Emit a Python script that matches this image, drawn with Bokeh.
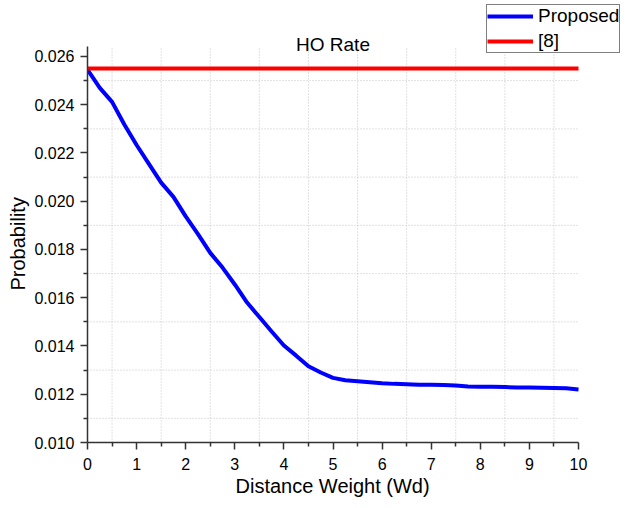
from bokeh.plotting import figure
from bokeh.models import (Legend, LegendItem, FixedTicker, NumeralTickFormatter,
                          Label, Title)
from bokeh.embed import file_html
from bokeh.resources import INLINE

# ---- data ----
x_vals = [0, 0.25, 0.5, 0.75, 1.0, 1.25, 1.5, 1.75, 2.0, 2.25, 2.5, 2.75, 3.0,
          3.25, 3.5, 3.75, 4.0, 4.25, 4.5, 4.75, 5.0, 5.25, 5.5, 5.75, 6.0,
          6.25, 6.5, 6.75, 7.0, 7.25, 7.5, 7.75, 8.0, 8.25, 8.5, 8.75, 9.0,
          9.25, 9.5, 9.75, 10.0]
proposed = [0.02545, 0.02470, 0.02412, 0.02318, 0.02233, 0.02155, 0.02077,
            0.02018, 0.01937, 0.01864, 0.01786, 0.01725, 0.01655, 0.01580,
            0.01520, 0.01460, 0.01402, 0.01360, 0.01316, 0.01290, 0.01268,
            0.01258, 0.01254, 0.01250, 0.01246, 0.01243, 0.01241, 0.01239,
            0.01239, 0.01238, 0.01236, 0.01232, 0.01231, 0.01231, 0.01230,
            0.01228, 0.01228, 0.01227, 0.01226, 0.01225, 0.01220]
ref8_x = [0, 10]
ref8 = [0.02550, 0.02550]

x_ticks = [0, 1, 2, 3, 4, 5, 6, 7, 8, 9, 10]
x_minor = [0.5, 1.5, 2.5, 3.5, 4.5, 5.5, 6.5, 7.5, 8.5, 9.5]
y_ticks = [0.010, 0.012, 0.014, 0.016, 0.018, 0.020, 0.022, 0.024, 0.026]
y_minor = [0.011, 0.013, 0.015, 0.017, 0.019, 0.021, 0.023, 0.025]

X_AXIS = (0, 10)
Y_AXIS = (0.010, 0.0264)

FONT = "Liberation Sans"

# frame extended to the canvas top/right so the legend and title (which sit
# outside the axes box) are not clipped; axes are bounded to the data box
p = figure(width=620, height=500, output_backend="svg", toolbar_location=None,
           x_range=(0, 10.855), y_range=(0.010, 0.02832),
           min_border_left=87, min_border_right=0, min_border_top=0,
           min_border_bottom=58)
p.outline_line_color = None
p.background_fill_color = "white"
p.border_fill_color = "white"
p.xgrid.visible = False
p.ygrid.visible = False

# dotted grid at minor tick positions, limited to the axes box
GRID = dict(line_color="#c4c4c4", line_width=1, line_dash="1 2")
p.segment(x0=x_minor, y0=[Y_AXIS[0]] * len(x_minor), x1=x_minor,
          y1=[Y_AXIS[1]] * len(x_minor), **GRID)
p.segment(x0=[X_AXIS[0]] * len(y_minor), y0=y_minor,
          x1=[X_AXIS[1]] * len(y_minor), y1=y_minor, **GRID)

l1 = p.line(x_vals, proposed, line_color="#0000FF", line_width=4)
l2 = p.line(ref8_x, ref8, line_color="#FF0000", line_width=4)

p.xaxis.ticker = FixedTicker(ticks=x_ticks, minor_ticks=x_minor)
p.yaxis.ticker = FixedTicker(ticks=y_ticks, minor_ticks=y_minor)
p.yaxis.formatter = NumeralTickFormatter(format="0.000")
p.xaxis.bounds = X_AXIS
p.yaxis.bounds = Y_AXIS

for ax in (p.xaxis, p.yaxis):
    ax.axis_line_color = "#333333"
    ax.axis_line_width = 1.5
    ax.major_tick_line_color = "#333333"
    ax.major_tick_line_width = 1.5
    ax.minor_tick_line_color = "#333333"
    ax.minor_tick_line_width = 1.5
    ax.major_tick_out = 7
    ax.major_tick_in = 0
    ax.minor_tick_out = 4
    ax.minor_tick_in = 0
    ax.major_label_text_font = FONT
    ax.major_label_text_font_size = "16px"
    ax.major_label_text_color = "black"

p.xaxis.major_label_standoff = 8
p.yaxis.major_label_standoff = 6

# axis titles, placed so they are centred on the bounded axes
xlab = Title(text="Distance Weight (Wd)", align="left", offset=148,
             standoff=1, text_font=FONT, text_font_size="20px",
             text_font_style="normal", text_color="black")
p.add_layout(xlab, "below")
ylab = Title(text="Probability", align="left", offset=152,
             standoff=6, text_font=FONT, text_font_size="20px",
             text_font_style="normal", text_color="black")
p.add_layout(ylab, "left")

title = Label(x=5, y=0.02650, text="HO Rate", text_align="center",
              text_baseline="alphabetic", text_font=FONT,
              text_font_size="19px", text_color="black")
p.add_layout(title)

legend = Legend(items=[LegendItem(label="Proposed", renderers=[l1]),
                       LegendItem(label="[8]", renderers=[l2])],
                location=(399, 389))
legend.border_line_color = "black"
legend.border_line_width = 1
legend.background_fill_color = "white"
legend.background_fill_alpha = 1
legend.label_text_font = FONT
legend.label_text_font_size = "19px"
legend.label_text_color = "black"
legend.glyph_width = 46
legend.glyph_height = 20
legend.label_height = 20
legend.label_standoff = 5
legend.padding = 0
legend.spacing = 3
legend.margin = 0
p.add_layout(legend, "center")

open("out.html", "w").write(file_html(p, INLINE))
